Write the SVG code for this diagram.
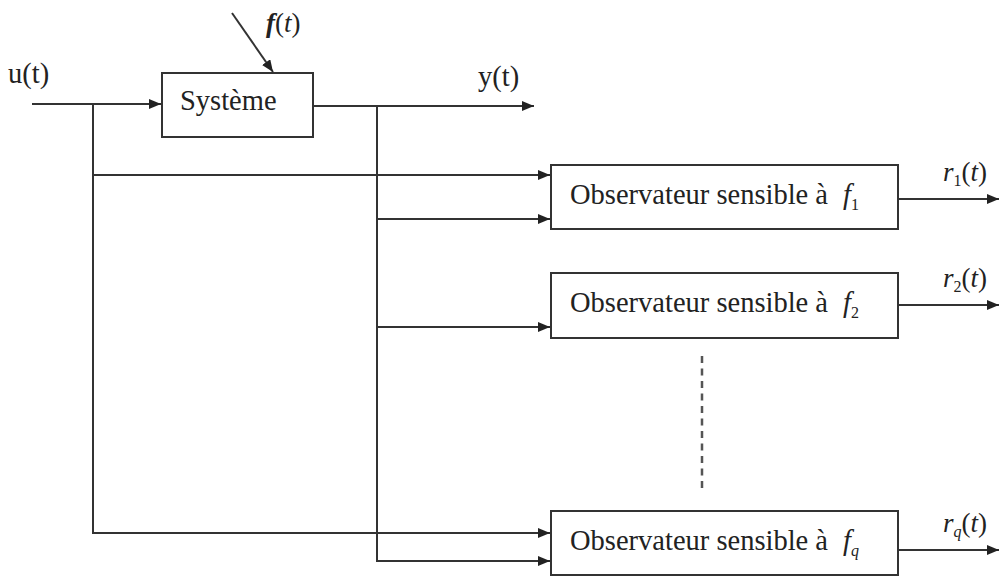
<svg xmlns="http://www.w3.org/2000/svg" width="1000" height="576" viewBox="0 0 1000 576">
<style>
.box{fill:#fff;stroke:#333;stroke-width:2}
.ln{fill:none;stroke:#333;stroke-width:2}
.t{font-family:"Liberation Serif","Times New Roman",serif;font-size:28.5px;fill:#222}
.s{font-family:"Liberation Serif","Times New Roman",serif;font-size:27px;fill:#222}
.i{font-style:italic}
.sub{font-size:16px}
</style>
<defs>
<marker id="ah" markerUnits="userSpaceOnUse" markerWidth="13" markerHeight="11" refX="12" refY="5" orient="auto">
<path d="M0,0 L12,5 L0,10 z" fill="#222"/>
</marker>
</defs>
<rect width="1000" height="576" fill="#fff"/>
<g id="connectors">
<line class="ln" x1="32" y1="104" x2="161" y2="104" marker-end="url(#ah)"/>
<line class="ln" x1="232" y1="13" x2="273" y2="72" marker-end="url(#ah)"/>
<line class="ln" x1="313" y1="106" x2="534" y2="106" marker-end="url(#ah)"/>
<polyline class="ln" points="93,104 93,533 550,533" marker-end="url(#ah)"/>
<line class="ln" x1="93" y1="175" x2="550" y2="175" marker-end="url(#ah)"/>
<polyline class="ln" points="377,106 377,561 550,561" marker-end="url(#ah)"/>
<line class="ln" x1="377" y1="219" x2="550" y2="219" marker-end="url(#ah)"/>
<line class="ln" x1="377" y1="327" x2="550" y2="327" marker-end="url(#ah)"/>
<line class="ln" x1="898" y1="199" x2="999" y2="199" marker-end="url(#ah)"/>
<line class="ln" x1="898" y1="305" x2="999" y2="305" marker-end="url(#ah)"/>
<line class="ln" x1="898" y1="550" x2="999" y2="550" marker-end="url(#ah)"/>
<line x1="702" y1="356" x2="702" y2="490" stroke="#555" stroke-width="2.5" stroke-dasharray="7 5.5"/>
</g>
<g id="labels">
<text class="t" x="8" y="83">u(t)</text>
<text class="s" x="266" y="32"><tspan class="i" font-weight="bold">f</tspan>(<tspan class="i">t</tspan>)</text>
<text class="t" x="478" y="86">y(t)</text>
<text class="s" x="943" y="181"><tspan class="i">r</tspan><tspan class="sub" dy="5">1</tspan><tspan dy="-5">(</tspan><tspan class="i">t</tspan>)</text>
<text class="s" x="943" y="287"><tspan class="i">r</tspan><tspan class="sub" dy="5">2</tspan><tspan dy="-5">(</tspan><tspan class="i">t</tspan>)</text>
<text class="s" x="943" y="532"><tspan class="i">r</tspan><tspan class="sub i" dy="5">q</tspan><tspan dy="-5">(</tspan><tspan class="i">t</tspan>)</text>
</g>
<g id="systeme">
<rect class="box" x="162" y="73" width="151" height="64"/>
<text class="t" x="180" y="110">Système</text>
</g>
<g id="obs1">
<rect class="box" x="551" y="165" width="347" height="64"/>
<text class="t" x="570" y="204">Observateur sensible à<tspan class="i" x="843">f</tspan><tspan class="sub" dy="6">1</tspan></text>
</g>
<g id="obs2">
<rect class="box" x="551" y="273" width="347" height="65"/>
<text class="t" x="570" y="312">Observateur sensible à<tspan class="i" x="843">f</tspan><tspan class="sub" dy="6">2</tspan></text>
</g>
<g id="obsq">
<rect class="box" x="551" y="511" width="347" height="64"/>
<text class="t" x="570" y="550">Observateur sensible à<tspan class="i" x="843">f</tspan><tspan class="sub i" dy="6">q</tspan></text>
</g>
</svg>
